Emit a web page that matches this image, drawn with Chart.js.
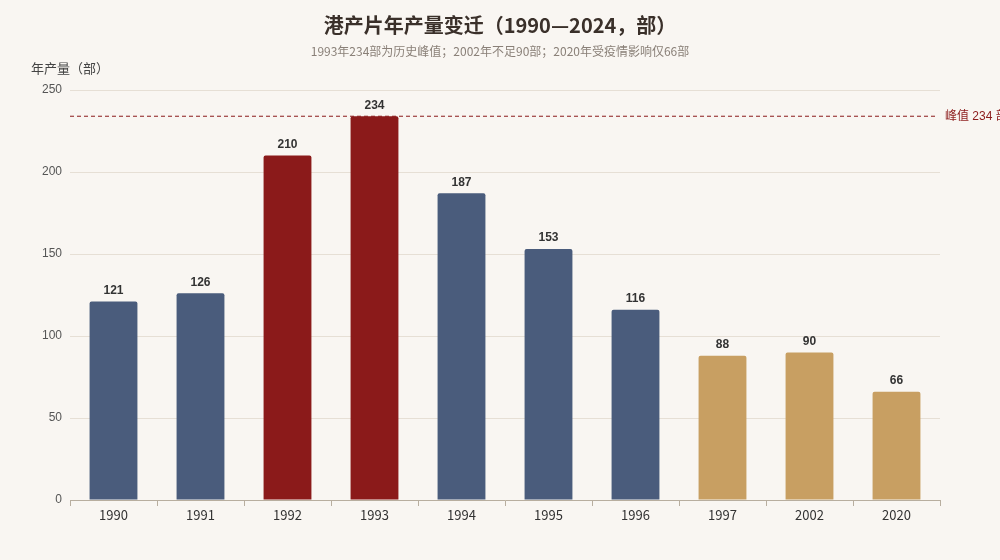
<!DOCTYPE html>
<html>
<head>
<meta charset="utf-8">
<script src="https://cdn.jsdelivr.net/npm/chart.js@4/dist/chart.umd.min.js"></script>
<style>
  html, body { margin: 0; padding: 0; background: #f9f6f2; }
  #wrap { width: 1000px; height: 560px; position: relative; }
</style>
</head>
<body>
<div id="wrap"><canvas id="c"></canvas></div>
<script>
// data
const years = ['1990', '1991', '1992', '1993', '1994', '1995', '1996', '1997', '2002', '2020'];
const films = [121, 126, 210, 234, 187, 153, 116, 88, 90, 66];
const phase = ['normal', 'normal', 'peak', 'peak', 'normal', 'normal', 'normal', 'late', 'late', 'late'];
const yTicks = [0, 50, 100, 150, 200, 250];
const peakValue = 234;

const phaseColors = { normal: '#4a5c7c', peak: '#8b1a1a', late: '#c89f62' };
const cjk = '"Noto Sans CJK SC", "Noto Sans", sans-serif';
const latin = '"Liberation Sans", "Noto Sans CJK SC", sans-serif';

const decor = {
    id: 'decor',
    afterDatasetsDraw(chart) {
        const ctx = chart.ctx, area = chart.chartArea;
        const y = chart.scales.y;
        ctx.save();

        // peak line
        const py = y.getPixelForValue(peakValue);
        ctx.strokeStyle = '#8b1a1a';
        ctx.lineWidth = 1;
        ctx.setLineDash([4, 3]);
        ctx.beginPath();
        ctx.moveTo(area.left, py);
        ctx.lineTo(area.right - 2, py);
        ctx.stroke();
        ctx.setLineDash([]);
        ctx.fillStyle = '#8b1a1a';
        ctx.font = '12px ' + latin;
        ctx.textAlign = 'left';
        ctx.textBaseline = 'middle';
        ctx.fillText('峰值 ' + peakValue + ' 部', area.right + 5, py);

        // value labels
        const meta = chart.getDatasetMeta(0);
        ctx.fillStyle = '#333';
        ctx.font = 'bold 12px ' + latin;
        ctx.textAlign = 'center';
        ctx.textBaseline = 'bottom';
        meta.data.forEach((bar, i) => {
            ctx.fillText(films[i], bar.x, bar.y - 5);
        });

        // titles
        ctx.fillStyle = '#3a302a';
        ctx.font = 'bold 20px ' + cjk;
        ctx.textBaseline = 'middle';
        ctx.fillText('港产片年产量变迁（1990—2024，部）', 500, 25);
        ctx.fillStyle = '#8a8078';
        ctx.font = '12px ' + cjk;
        ctx.fillText('1993年234部为历史峰值；2002年不足90部；2020年受疫情影响仅66部', 500, 51);

        ctx.fillStyle = '#444';
        ctx.font = '13px ' + cjk;
        ctx.textAlign = 'left';
        ctx.fillText('年产量（部）', 31, 68);
        ctx.restore();
    }
};

new Chart(document.getElementById('c'), {
    type: 'bar',
    data: {
        labels: years,
        datasets: [{
            data: films,
            backgroundColor: phase.map(p => phaseColors[p]),
            borderRadius: { topLeft: 2, topRight: 2 },
            borderSkipped: 'bottom',
            categoryPercentage: 0.55,
            barPercentage: 1
        }]
    },
    options: {
        responsive: true,
        maintainAspectRatio: false,
        animation: false,
        layout: { padding: { top: 90, right: 60, bottom: 30, left: 0 } },
        plugins: {
            legend: { display: false },
            title: { display: false },
            tooltip: { enabled: false }
        },
        scales: {
            x: {
                afterFit: s => { s.height = 30; },
                grid: { drawOnChartArea: false, drawTicks: true, tickLength: 6, color: '#b8ae9f' },
                border: { color: '#b8ae9f' },
                ticks: { color: '#333', font: { family: cjk, size: 13 }, padding: 1 }
            },
            y: {
                min: 0,
                max: 250,
                afterFit: s => { s.width = 70; },
                afterBuildTicks: s => { s.ticks = yTicks.map(v => ({ value: v })); },
                grid: { color: '#e6dfd5', drawTicks: false },
                border: { display: false },
                ticks: { color: '#555', font: { family: latin, size: 12 }, padding: 8 }
            }
        }
    },
    plugins: [decor]
});
</script>
</body>
</html>
